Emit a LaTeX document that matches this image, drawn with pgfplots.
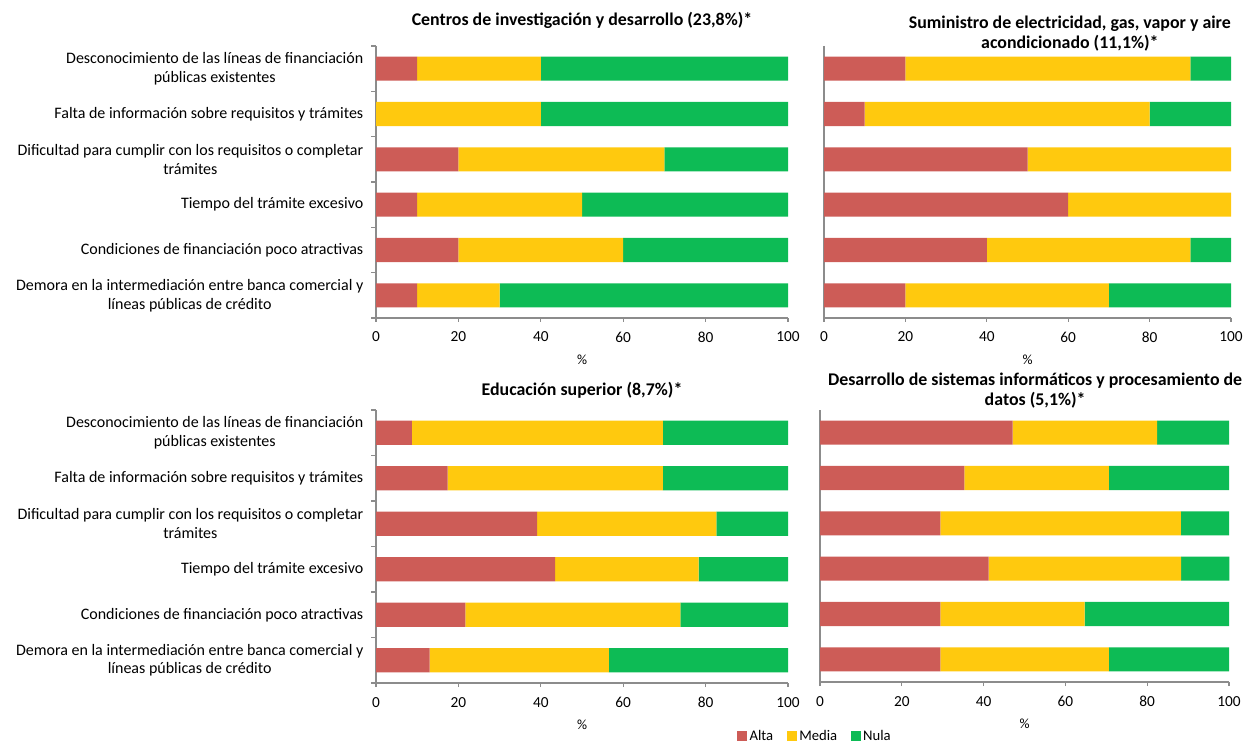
\documentclass[border=0pt]{standalone}
\usepackage{pgfplots}
\pgfplotsset{compat=1.18}
\usepackage{pgfplotstable}
\usepackage{fontspec}
\setmainfont{Carlito}

\definecolor{alta}{HTML}{CD5C57}
\definecolor{media}{HTML}{FFC90E}
\definecolor{nula}{HTML}{0DBB55}
\definecolor{axgray}{HTML}{8C8C8C}

% columns: row, alta, media, nula (%)
\pgfplotstableread{
y alta media nula
0 10 30 60
1 0 40 60
2 20 50 30
3 10 40 50
4 20 40 40
5 10 20 70
}\centros
\pgfplotstableread{
y alta media nula
0 20 70 10
1 10 70 20
2 50 50 0
3 60 40 0
4 40 50 10
5 20 50 30
}\suministro
\pgfplotstableread{
y alta media nula
0 8.7 60.9 30.4
1 17.4 52.2 30.4
2 39.1 43.5 17.4
3 43.5 34.8 21.7
4 21.7 52.2 26.1
5 13.0 43.5 43.5
}\educacion
\pgfplotstableread{
y alta media nula
0 47.1 35.3 17.6
1 35.3 35.3 29.4
2 29.4 58.8 11.8
3 41.2 47.1 11.8
4 29.4 35.3 35.3
5 29.4 41.2 29.4
}\sistemas

\pgfplotsset{
  panel/.style={
    xbar stacked, scale only axis,
    anchor=south west,
    xmin=0, xmax=100, ymin=-0.5, ymax=5.5,
    y dir=reverse,
    bar width=0.53,
    axis lines=left,
    axis line style={draw=axgray, line width=0.8pt, -},
    xtick={0,20,...,100},
    tick align=outside,
    major tick length=3pt,
    minor tick length=3.5pt,
    tick style={draw=axgray, line width=0.8pt},
    ytick=\empty,
    minor ytick={-0.5,0.5,...,5.5},
    /pgf/number format/assume math mode=true,
    ticklabel style={font=\fontsize{11.5}{13}\selectfont, text=black},
    xticklabel style={yshift=-4pt},
    xlabel={\%},
    xlabel style={font=\fontsize{10.5}{12}\selectfont, yshift=-2pt},
    every axis title shift=0pt,
    title style={font=\bfseries\fontsize{13.4}{14.5}\selectfont, align=center, anchor=center},
    clip=false,
  },
  labels/.style={
    ytick={0,...,5},
    major y tick style={draw=none},
    yticklabel style={align=center, font=\fontsize{12}{14.2}\selectfont, xshift=-3pt},
    yticklabels={
      {Desconocimiento de las líneas de financiación\\públicas existentes},
      {Falta de información sobre requisitos y trámites},
      {Dificultad para cumplir con los requisitos o completar\\trámites},
      {Tiempo del trámite excesivo},
      {Condiciones de financiación poco atractivas},
      {Demora en la intermediación entre banca comercial y\\líneas públicas de crédito},
    },
  },
}

\newcommand{\stackbars}[1]{%
  \addplot[fill=alta, draw=none] table[x=alta, y=y] {#1};
  \addplot[fill=media, draw=none] table[x=media, y=y] {#1};
  \addplot[fill=nula, draw=none] table[x=nula, y=y] {#1};
}

\begin{document}
\begin{tikzpicture}
\useasboundingbox (0,0) rectangle (938.25pt,556.5pt);

\begin{axis}[panel, labels, at={(282pt,318pt)}, width=309pt, height=204pt,
  title={Centros de investigación y desarrollo (23,8\%)*},
  title style={at={(0.5,1.096)}}]
\stackbars{\centros}
\end{axis}

\begin{axis}[panel, at={(618pt,318pt)}, width=305.25pt, height=204pt,
  title={Suministro de electricidad, gas, vapor y aire\\acondicionado (11,1\%)*},
  title style={at={(0.604,1.046)}}]
\stackbars{\suministro}
\end{axis}

\begin{axis}[panel, labels, at={(282pt,44.25pt)}, width=309pt, height=204.75pt,
  title={Educación superior (8,7\%)*},
  title style={at={(0.5,1.073)}},
  legend style={at={(1.066,-0.194)}, anchor=center, legend columns=3, draw=none,
    font=\fontsize{11}{12}\selectfont,
    /tikz/every even column/.append style={column sep=8pt}},
  legend image code/.code={\fill[#1] (0pt,-3.75pt) rectangle (7.5pt,3.75pt);}]
\stackbars{\educacion}
\legend{Alta, Media, Nula}
\end{axis}

\begin{axis}[panel, at={(615pt,45pt)}, width=306.75pt, height=204pt,
  title={Desarrollo de sistemas informáticos y procesamiento de\\datos (5,1\%)*},
  title style={at={(0.526,1.072)}}]
\stackbars{\sistemas}
\end{axis}
\end{tikzpicture}
\end{document}
